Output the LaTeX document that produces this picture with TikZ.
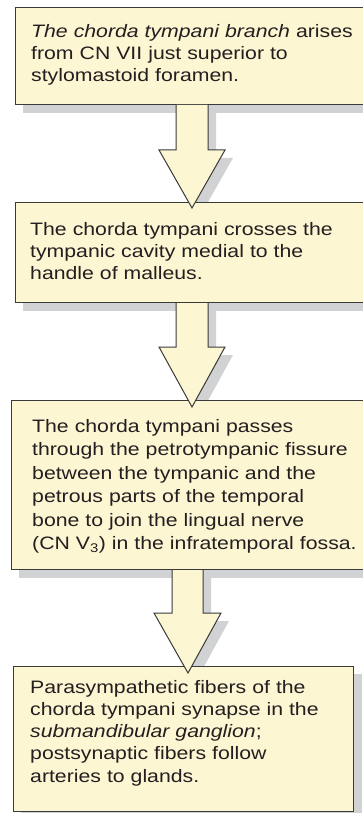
\documentclass[tikz,border=0pt]{standalone}
\usepackage{fontspec}
\setmainfont[FakeStretch=1.18]{Liberation Sans}
\usetikzlibrary{calc}
\definecolor{boxfill}{HTML}{FDF6D3}
\definecolor{shadowgray}{HTML}{D1D2D4}
\definecolor{edge}{HTML}{3A3A3A}
\definecolor{ink}{HTML}{231F20}
\pgfdeclarelayer{bg}
\pgfdeclarelayer{fg}
\pgfsetlayers{bg,main,fg}
% #1 from node, #2 to node, #3/#4 stem left/right (from #1.south west),
% #5/#6 head left/right (from #2.north west), #7 tip x, #8 head rise, #9 tip drop
\newcommand\blockarrow[9]{%
  \begin{pgfonlayer}{bg}
    \fill[shadowgray, transform canvas={xshift=8pt,yshift=-8pt}]
      ($(#1.south west)+(#3,0)$) |- ($(#2.north west)+(#5,-#8)$)
      -- ($(#2.north west)+(#7,#9)$) -- ($(#2.north west)+(#6,-#8)$)
      -| ($(#1.south west)+(#4,0)$) -- cycle;
  \end{pgfonlayer}
  \begin{pgfonlayer}{fg}
    \fill[boxfill]
      ($(#1.south west)+(#3,0)$) |- ($(#2.north west)+(#5,-#8)$)
      -- ($(#2.north west)+(#7,#9)$) -- ($(#2.north west)+(#6,-#8)$)
      -| ($(#1.south west)+(#4,0)$) -- cycle;
    \draw[arrowline]
      ($(#1.south west)+(#3,0)$) |- ($(#2.north west)+(#5,-#8)$)
      -- ($(#2.north west)+(#7,#9)$) -- ($(#2.north west)+(#6,-#8)$)
      -| ($(#1.south west)+(#4,0)$);
  \end{pgfonlayer}}
\newcommand\boxshadow[1]{%
  \begin{pgfonlayer}{bg}
    \fill[shadowgray] ($(#1.north west)+(8,8)$) rectangle ($(#1.south east)+(8,8)$);
  \end{pgfonlayer}}
\begin{document}
\begin{tikzpicture}[x=1pt,y=-1pt,
  box/.style={draw=edge, line width=1pt, fill=boxfill, rectangle, inner sep=0pt, anchor=north west},
  arrowline/.style={draw=edge, line width=1pt, line join=miter},
  label/.style={anchor=base west, inner sep=0pt, text=ink, align=left, text width=340pt},
  txt/.style={font=\fontsize{18}{#1}\selectfont}]
\useasboundingbox (0,0) rectangle (363,813);
\begin{pgfonlayer}{bg}
  \fill[white] (0,0) rectangle (363,813);
\end{pgfonlayer}

\node[box, minimum width=358pt, minimum height=97pt] (b1) at (15,7) {};
\node[box, minimum width=358pt, minimum height=100pt] (b2) at (15,202) {};
\node[box, minimum width=362pt, minimum height=169pt] (b3) at (11,400) {};
\node[box, minimum width=340pt, minimum height=145pt] (b4) at (13,666) {};

\boxshadow{b1}
\boxshadow{b2}
\boxshadow{b3}
\boxshadow{b4}

\node[label, txt=21.7pt] (t1) at (31,38)
  {\textit{The chorda tympani branch} arises\\from CN VII just superior to\\stylomastoid foramen.};
\node[label, txt=22.2pt] (t2) at (30,235)
  {The chorda tympani crosses the\\tympanic cavity medial to the\\handle of malleus.};
\node[label, txt=23.5pt] (t3) at (32,432)
  {The chorda tympani passes\\through the petrotympanic fissure\\between the tympanic and the\\petrous parts of the temporal\\bone to join the lingual nerve\\(CN V\textsubscript{3}) in the infratemporal fossa.};
\node[label, txt=22.3pt] (t4) at (30,693)
  {Parasympathetic fibers of the\\chorda tympani synapse in the\\\textit{submandibular ganglion};\\postsynaptic fibers follow\\arteries to glands.};

\blockarrow{b1}{b2}{161}{193}{144}{210}{177}{52}{6}
\blockarrow{b2}{b3}{161}{193}{148}{214}{181}{53}{7}
\blockarrow{b3}{b4}{161}{192}{141}{208}{175}{53}{7}
\end{tikzpicture}
\end{document}
